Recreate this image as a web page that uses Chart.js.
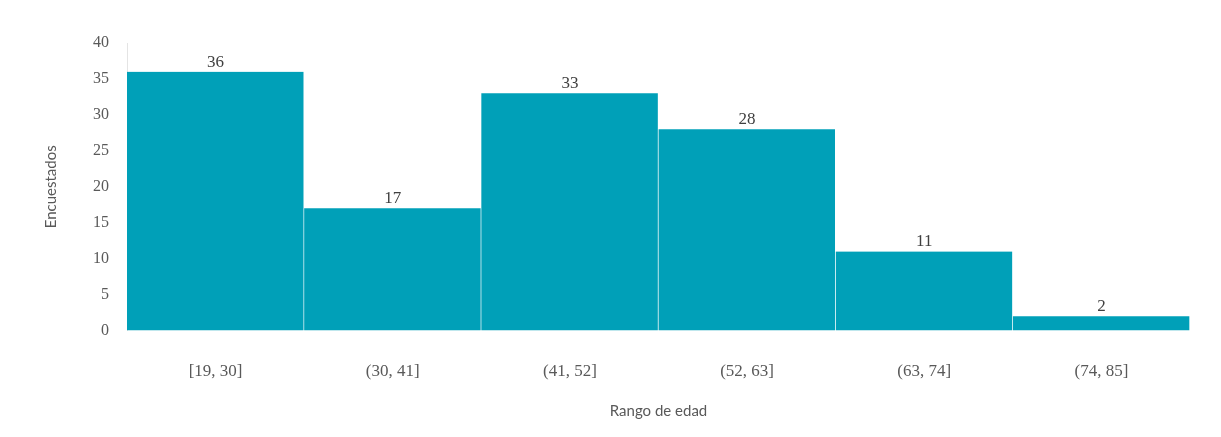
<!DOCTYPE html>
<html>
<head>
<meta charset="utf-8">
<script src="https://cdn.jsdelivr.net/npm/chart.js@4/dist/chart.umd.min.js"></script>
<style>
  html, body { margin: 0; padding: 0; background: #fff; }
  #wrap { width: 1221px; height: 437px; }
</style>
</head>
<body>
<div id="wrap"><canvas id="myChart" width="1221" height="437"></canvas></div>
<script>
// age ranges and how many people answered in each
var rangos = ["[19, 30]", "(30, 41]", "(41, 52]", "(52, 63]", "(63, 74]", "(74, 85]"];
var encuestados = [36, 17, 33, 28, 11, 2];
var yTicks = [0, 5, 10, 15, 20, 25, 30, 35, 40];

var serif = "'Liberation Serif', 'DejaVu Serif', serif";
var sans = "Lato, 'Open Sans', sans-serif";

// small plugin to write the count above each bar
var barLabels = {
    id: 'barLabels',
    afterDatasetsDraw: function (chart) {
        var ctx = chart.ctx;
        var meta = chart.getDatasetMeta(0);
        ctx.save();
        ctx.font = "17px " + serif;
        ctx.fillStyle = '#404040';
        ctx.textAlign = 'center';
        ctx.textBaseline = 'bottom';
        meta.data.forEach(function (bar, i) {
            ctx.fillText(String(encuestados[i]), bar.x, bar.y - 1);
        });
        ctx.restore();
    }
};

var ctx = document.getElementById('myChart').getContext('2d');
var chart = new Chart(ctx, {
    type: 'bar',
    data: {
        labels: rangos,
        datasets: [{
            label: "Encuestados",
            backgroundColor: '#00a0b8',
            borderColor: '#ffffff',
            borderWidth: { left: 0, right: 1, top: 0, bottom: 0 },
            borderSkipped: false,
            categoryPercentage: 1,
            barPercentage: 1,
            data: encuestados
        }]
    },
    options: {
        responsive: false,
        animation: false,
        layout: { padding: { left: 42, right: 31, top: 43, bottom: 17 } },
        plugins: {
            legend: { display: false },
            tooltip: { enabled: false }
        },
        scales: {
            x: {
                grid: { display: false },
                border: { display: false },
                ticks: {
                    color: '#595959',
                    font: { family: serif, size: 17 },
                    padding: 23
                },
                title: {
                    display: true,
                    text: 'Rango de edad',
                    color: '#595959',
                    font: { family: sans, size: 15 },
                    padding: { top: -3, bottom: 0 }
                }
            },
            y: {
                min: 0,
                max: 40,
                grid: { display: false },
                border: { display: true, color: '#e4e4e4' },
                afterBuildTicks: function (scale) {
                    scale.ticks = yTicks.map(function (v) { return { value: v }; });
                },
                ticks: {
                    color: '#595959',
                    font: { family: serif, size: 16 },
                    padding: 10
                },
                title: {
                    display: true,
                    text: 'Encuestados',
                    color: '#595959',
                    font: { family: sans, size: 15 },
                    padding: { top: 0, bottom: 23 }
                }
            }
        }
    },
    plugins: [barLabels]
});
</script>
</body>
</html>
